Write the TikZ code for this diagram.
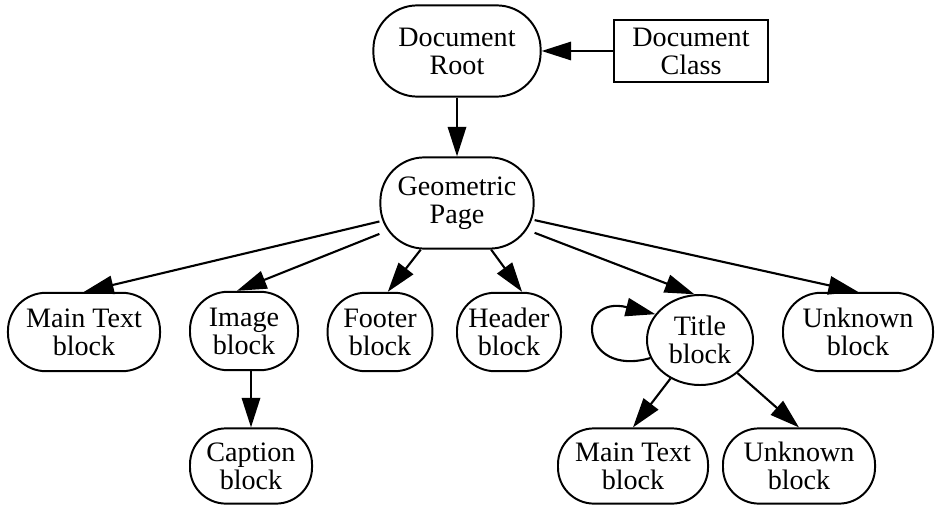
\documentclass[tikz,border=0pt]{standalone}
\usepackage{fontspec}
\setmainfont{Liberation Serif}
\usetikzlibrary{arrows.meta,shapes.geometric}

\begin{document}
\begin{tikzpicture}[
  x=0.025cm,
  y=0.025cm,
  blk/.style={draw, line width=1.4pt, rounded corners=0.95cm, minimum height=1.96cm, inner sep=1pt, align=center, font=\fontsize{20}{20}\selectfont},
  lowblk/.style={blk, rounded corners=0.9cm, minimum height=1.88cm},
  rootblk/.style={blk, rounded corners=1.1cm, minimum height=2.28cm},
  oval/.style={draw, line width=1.4pt, ellipse, minimum width=2.65cm, minimum height=2.25cm, inner sep=0pt, align=center, font=\fontsize{20}{20}\selectfont},
  box/.style={draw, line width=1.4pt, rectangle, minimum width=3.83cm, minimum height=1.55cm, align=center, font=\fontsize{20}{20}\selectfont},
  arr/.style={-{Triangle[length=0.74cm,width=0.46cm]}, line width=1.5pt}
]
\useasboundingbox (0,0) rectangle (938,-505);

% Top of the tree
\node[rootblk, minimum width=4.18cm] (root) at (457,-51) {Document\\Root};
\node[box] (cls) at (691,-51) {Document\\Class};
\node[rootblk, minimum width=3.83cm] (geo) at (457,-203) {Geometric\\Page};

% Blocks on the page
\node[blk, minimum width=3.8cm] (mtb) at (84,-332) {Main Text\\block};
\node[blk, minimum width=2.7cm] (img) at (244,-331) {Image\\block};
\node[blk, minimum width=2.62cm] (ftr) at (380,-332) {Footer\\block};
\node[blk, minimum width=2.6cm] (hdr) at (509,-332) {Header\\block};
\node[oval] (ttl) at (700,-340) {Title\\block};
\node[blk, minimum width=3.75cm] (unk) at (858,-332) {Unknown\\block};

% Children of image and title
\node[lowblk, minimum width=3.05cm] (cap) at (251,-466) {Caption\\block};
\node[lowblk, minimum width=3.75cm] (mt2) at (633,-466) {Main Text\\block};
\node[lowblk, minimum width=3.8cm] (unk2) at (799,-466) {Unknown\\block};

% Connectors
\draw[arr] (cls) -- (root);
\draw[arr] (root) -- (geo);
\draw[arr] (geo) -- (mtb.north);
\draw[arr] (geo) -- (img.100);
\draw[arr] (geo) -- (ftr.79);
\draw[arr] (geo) -- (hdr.72);
\draw[arr] (geo) -- (ttl.97);
\draw[arr] (geo) -- (unk.north);
\draw[arr] (cap.north |- img.south) -- (cap.north);
\draw[arr] (ttl) -- (mt2.north);
\draw[arr] (ttl) -- (unk2.north);
\draw[arr] (ttl.200) .. controls +(-70,-20) and +(-81,20) .. (ttl.150);

\end{tikzpicture}
\end{document}
